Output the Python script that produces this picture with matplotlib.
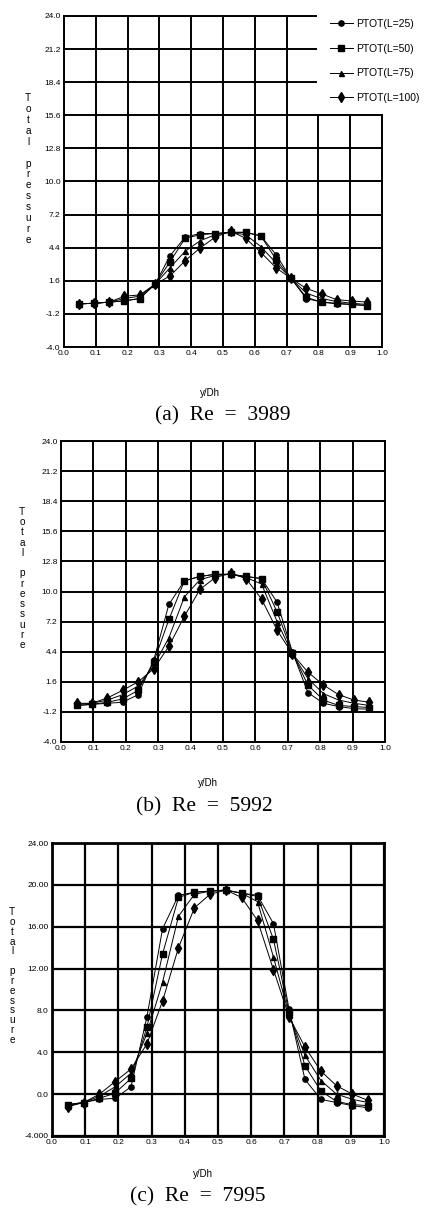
import numpy as np
import matplotlib
matplotlib.use("Agg")
import matplotlib.pyplot as plt
from matplotlib.patches import Rectangle

plt.rcParams['font.family'] = ['Liberation Sans', 'DejaVu Sans']

# y/Dh stations (20 points across the duct)
x = [0.048, 0.095, 0.143, 0.190, 0.238, 0.286, 0.333, 0.381, 0.429, 0.476,
     0.524, 0.571, 0.619, 0.667, 0.714, 0.762, 0.810, 0.857, 0.905, 0.952]

labels = ["PTOT(L=25)", "PTOT(L=50)", "PTOT(L=75)", "PTOT(L=100)"]

# (a) Re = 3989
a_L25  = [-0.35, -0.3, -0.2, -0.1, 0.1, 1.3, 3.7, 5.3, 5.6, 5.6, 5.7, 5.7, 5.4, 3.8, 1.8, 0.1, -0.2, -0.35, -0.4, -0.5]
a_L50  = [-0.35, -0.3, -0.2, -0.1, 0.1, 1.3, 3.2, 5.2, 5.5, 5.6, 5.7, 5.7, 5.4, 3.4, 1.8, 0.2, -0.2, -0.3, -0.4, -0.5]
a_L75  = [-0.35, -0.3, -0.2, 0.1, 0.3, 1.3, 2.7, 4.1, 5.0, 5.5, 5.7, 5.5, 4.5, 3.1, 1.8, 0.55, 0.1, -0.15, -0.3, -0.4]
a_L100 = [-0.35, -0.3, -0.2, 0.3, 0.4, 1.3, 2.0, 3.3, 4.4, 5.3, 5.8, 5.2, 4.0, 2.7, 1.8, 0.95, 0.5, 0.0, -0.1, -0.2]

# (b) Re = 5992
b_L25  = [-0.6, -0.5, -0.4, -0.3, 0.4, 3.6, 8.8, 11.0, 11.4, 11.6, 11.6, 11.4, 11.2, 9.0, 4.4, 0.6, -0.4, -0.7, -0.9, -0.95]
b_L50  = [-0.6, -0.5, -0.3, 0.0, 0.8, 3.4, 7.4, 11.0, 11.4, 11.6, 11.6, 11.4, 11.2, 8.1, 4.3, 1.3, -0.1, -0.6, -0.7, -0.8]
b_L75  = [-0.5, -0.4, -0.1, 0.4, 1.2, 3.1, 5.7, 9.5, 11.1, 11.5, 11.6, 11.3, 10.7, 7.2, 4.2, 1.9, 0.5, -0.1, -0.4, -0.6]
b_L100 = [-0.4, -0.4, 0.1, 0.8, 1.6, 2.8, 4.9, 7.7, 10.2, 11.3, 11.7, 11.2, 9.3, 6.4, 4.2, 2.5, 1.3, 0.4, -0.1, -0.3]

# (c) Re = 7995
c_L25  = [-1.0, -0.8, -0.5, -0.4, 0.7, 7.4, 15.8, 19.0, 19.3, 19.4, 19.5, 19.2, 19.0, 16.3, 8.1, 1.4, -0.5, -0.8, -1.1, -1.3]
c_L50  = [-1.0, -0.8, -0.4, 0.1, 1.5, 6.4, 13.4, 18.8, 19.3, 19.4, 19.5, 19.2, 18.9, 14.8, 7.8, 2.7, 0.3, -0.7, -1.0, -1.1]
c_L75  = [-1.1, -0.8, -0.2, 0.7, 2.0, 5.8, 10.7, 17.0, 19.1, 19.4, 19.5, 19.2, 18.4, 13.1, 7.6, 3.7, 1.3, 0.0, -0.5, -0.8]
c_L100 = [-1.2, -0.8, 0.0, 1.2, 2.4, 4.8, 8.9, 14.0, 17.8, 19.1, 19.5, 18.8, 16.6, 11.9, 7.4, 4.5, 2.2, 0.8, 0.0, -0.6]

ab_ticks = [-4.0, -1.2, 1.6, 4.4, 7.2, 10.0, 12.8, 15.6, 18.4, 21.2, 24.0]
ab_ticklabels = ["-4.0", "-1.2", "1.6", "4.4", "7.2", "10.0", "12.8", "15.6", "18.4", "21.2", "24.0"]
c_ticks = [-4, 0, 4, 8, 12, 16, 20, 24]
c_ticklabels = ["-4.000", "0.0", "4.0", "8.0", "12.00", "16.00", "20.00", "24.00"]
x_ticks = [0.0, 0.1, 0.2, 0.3, 0.4, 0.5, 0.6, 0.7, 0.8, 0.9, 1.0]
x_ticklabels = ["0.0", "0.1", "0.2", "0.3", "0.4", "0.5", "0.6", "0.7", "0.8", "0.9", "1.0"]

captions = ["(a)  Re  =  3989", "(b)  Re  =  5992", "(c)  Re  =  7995"]

markers = [dict(marker='o', ms=3.8), dict(marker='s', ms=4.3),
           dict(marker='^', ms=3.6), dict(marker='d', ms=5.5)]

W, H = 429, 1210
fig = plt.figure(figsize=(W / 100, H / 100), dpi=100)


def box(l, t, r, b):
    return [l / W, 1 - b / H, (r - l) / W, (b - t) / H]


def panel(rect, series, yticks, yticklabels, grid_lw, spine_lw):
    ax = fig.add_axes(rect)
    for ys, m in zip(series, markers):
        ax.plot(x, ys, color='black', lw=0.7, mfc='black', mec='black', **m, zorder=2)
    ax.set_xlim(0, 1)
    ax.set_ylim(yticks[0], yticks[-1])
    ax.set_xticks(x_ticks)
    ax.set_xticklabels(x_ticklabels)
    ax.set_yticks(yticks)
    ax.set_yticklabels(yticklabels)
    ax.tick_params(length=0, labelsize=6, pad=2.5)
    ax.set_axisbelow(True)
    ax.grid(True, color='black', lw=grid_lw)
    for s in ax.spines.values():
        s.set_linewidth(spine_lw)
    return ax


def stacked_label(xp, ytop, ybot):
    word = "Total pressure"
    yy = np.linspace(ytop, ybot, len(word))
    for ch, yp in zip(word, yy):
        if ch != ' ':
            fig.text(xp / W, 1 - yp / H, ch, fontsize=7.2, ha='center', va='center')


# panel (a)
ax_a = panel(box(64, 16, 382, 347), [a_L25, a_L50, a_L75, a_L100], ab_ticks, ab_ticklabels, 1.4, 1.4)
ax_a.add_patch(Rectangle((0.795, 15.75), 0.26, 9.0, facecolor='white', edgecolor='none',
                         zorder=3, clip_on=False))
handles = ax_a.get_lines()
leg = fig.legend(handles, labels, loc='upper left', bbox_to_anchor=(330 / W, 1 - 19 / H),
                 frameon=False, fontsize=7.5, handlelength=2.2, handletextpad=0.35,
                 labelspacing=1.4, borderpad=0, borderaxespad=0)

# panel (b)
ax_b = panel(box(61, 441, 385, 742), [b_L25, b_L50, b_L75, b_L100], ab_ticks, ab_ticklabels, 1.4, 1.4)

# panel (c)
ax_c = panel(box(52, 843, 384, 1136), [c_L25, c_L50, c_L75, c_L100], c_ticks, c_ticklabels, 1.6, 2.0)

stacked_label(28, 98, 240)
stacked_label(22, 512, 645)
stacked_label(12, 912, 1040)

for yp, xp in [(393, 210), (783, 208), (1174, 203)]:
    fig.text(xp / W, 1 - yp / H, "y/Dh", fontsize=7, ha='center', va='center')

for cap, yp, xp in zip(captions, [416, 807, 1197], [223, 204, 198]):
    fig.text(xp / W, 1 - yp / H, cap, fontsize=15.5, ha='center', va='center',
             family='Liberation Serif')

fig.savefig("out.png", dpi=100, facecolor='white')
